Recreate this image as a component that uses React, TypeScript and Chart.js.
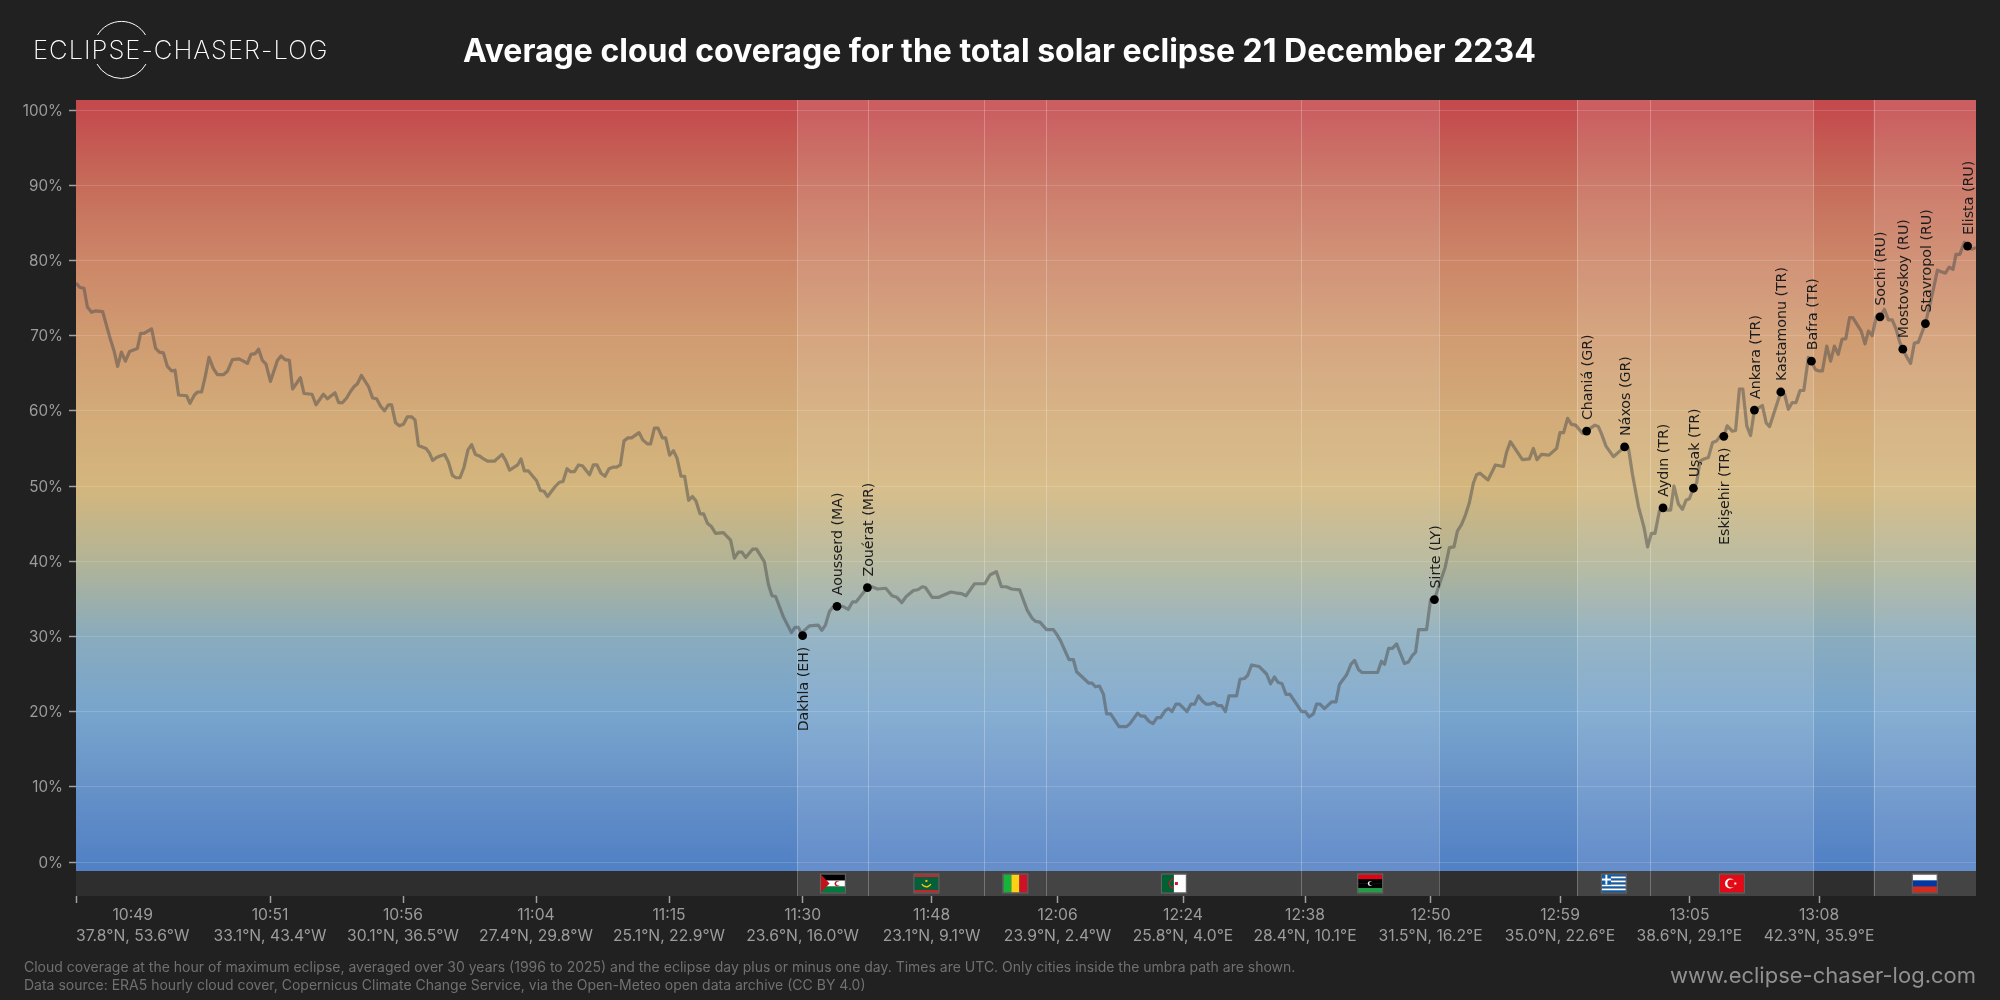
import { useEffect, useRef } from "react";
import { Chart, registerables } from "chart.js";

Chart.register(...registerables);

// position along the umbra path, km from the left edge of the chart
const trackKm = [
  0, 20, 40, 57, 78, 98, 133, 173, 190, 208, 227, 247, 268, 307, 323, 340, 378, 398, 417, 437, 457, 478, 495, 513, 553, 570, 592, 608, 628, 645, 665, 687, 707, 737, 758, 782, 815, 837, 857, 875, 895, 913, 932, 950, 972,
  1007, 1025, 1045, 1067, 1083, 1122, 1140, 1180, 1200, 1237, 1257, 1295, 1313, 1333, 1353, 1373, 1390, 1407, 1427, 1463, 1483, 1503, 1523, 1542, 1562, 1578, 1598, 1617, 1637, 1657, 1678, 1695, 1712, 1750, 1767, 1783, 1803,
  1820, 1843, 1862, 1882, 1900, 1920, 1940, 1960, 1978, 1997, 2017, 2038, 2058, 2092, 2130, 2148, 2168, 2208, 2225, 2242, 2262, 2303, 2322, 2340, 2358, 2395, 2417, 2435, 2455, 2473, 2492, 2513, 2532, 2568, 2587, 2605, 2625, 2645, 2665, 2685, 2703, 2722, 2740, 2760, 2778, 2815, 2835, 2857, 2873, 2892, 2910, 2932, 2948, 2968, 2987,
  3005, 3025, 3043, 3063, 3082, 3100, 3120, 3138, 3158, 3177, 3198, 3237, 3273, 3292, 3312, 3330, 3348, 3383, 3403, 3442, 3462, 3480, 3498, 3537, 3577, 3595, 3612, 3633,
  3638, 3667, 3711, 3729, 3747, 3767, 3785, 3805, 3834, 3861, 3883, 3901, 3957, 3979, 4008, 4049, 4080, 4104, 4129, 4151, 4187, 4209, 4232, 4247, 4281, 4314, 4374, 4397, 4426, 4450, 4493, 4544, 4571, 4602, 4627, 4651, 4678, 4718, 4756, 4781, 4798,
  4820, 4833, 4853, 4887, 4903, 4923, 4965, 4987, 5003, 5063, 5080, 5097, 5117, 5137, 5153, 5173, 5215, 5253, 5270, 5308, 5325, 5343, 5365, 5385, 5405, 5423, 5445, 5462, 5480, 5500, 5517, 5555, 5575, 5593, 5612, 5632, 5650, 5670, 5690, 5708, 5728, 5747, 5765, 5803, 5820, 5842, 5858, 5878, 5915, 5953, 5973, 5992,
  6010, 6030, 6050, 6070, 6128, 6147, 6165, 6187, 6203, 6220, 6242, 6278, 6300, 6317, 6353, 6375, 6393, 6412, 6430, 6508, 6527, 6543, 6563, 6582, 6603, 6642, 6662, 6680, 6698, 6713, 6753, 6773, 6792,
  6828, 6845, 6867, 6890, 6907, 6928, 6948, 6967, 6987, 7003, 7020, 7060, 7097, 7137, 7153, 7172, 7232, 7267, 7287, 7305, 7327, 7365, 7403, 7420, 7438, 7458, 7477, 7498, 7533, 7553, 7578, 7595, 7612, 7628, 7650, 7687, 7743, 7762, 7782, 7812, 7840, 7858, 7877, 7895, 7917, 7935, 7953, 7973, 7990,
  8012, 8032, 8050, 8067, 8087, 8103, 8120, 8140, 8162, 8183, 8203, 8220, 8239, 8256, 8281, 8298, 8317, 8334, 8354, 8373, 8392, 8432, 8451, 8468, 8524, 8543, 8562, 8581, 8600, 8620, 8639, 8662, 8677, 8696, 8715, 8732, 8754, 8773, 8792, 8811, 8830, 8849, 8868, 8884, 8926, 8945, 8962, 8981,
  9002, 9020, 9042, 9062, 9081, 9100, 9119, 9134, 9155, 9173, 9192, 9211, 9247, 9270, 9289, 9307, 9347, 9366, 9385, 9400, 9419, 9442, 9458, 9481, 9500,
];

const cloudCover = [
  77.0, 76.4, 76.3, 73.8, 73.1, 73.3, 73.2, 69.4, 68.0, 65.9, 67.8, 66.6, 67.9, 68.3, 70.3, 70.3, 70.9, 68.3, 67.8, 67.7, 65.9, 65.3, 65.4, 62.1, 62.0, 61.0, 62.1, 62.5, 62.5, 64.4, 67.1, 65.6, 64.8, 64.8, 65.3, 66.8, 66.9, 66.6, 66.3, 67.5, 67.6, 68.2, 66.7, 66.2, 63.9,
  66.7, 67.3, 66.8, 66.7, 62.9, 64.4, 62.3, 62.2, 60.8, 62.2, 61.6, 62.4, 61.1, 61.1, 61.7, 62.6, 63.2, 63.6, 64.7, 63.2, 61.7, 61.6, 60.6, 60.0, 60.8, 60.8, 58.4, 58.0, 58.2, 59.2, 59.2, 58.8, 55.4, 55.0, 54.4, 53.4, 53.8,
  54.0, 54.2, 53.2, 51.4, 51.1, 51.1, 52.5, 54.8, 55.5, 54.2, 54.0, 53.6, 53.3, 53.3, 54.2, 53.4, 52.1, 52.8, 53.6, 52.0, 52.0, 50.7, 49.4, 49.3, 48.6, 49.9, 50.5, 50.6, 52.3, 51.9, 51.9, 52.8, 52.7, 51.5, 52.8, 52.8, 51.7, 51.3, 52.3, 52.5, 52.5, 52.8, 56.0, 56.4, 56.4, 57.1, 56.1, 55.6, 55.6, 57.7, 57.7, 56.4, 56.4, 54.1, 54.7,
  53.7, 51.3, 51.3, 48.1, 48.6, 48.0, 46.3, 46.3, 45.0, 44.6, 43.7, 43.8, 42.8, 40.4, 41.2, 41.2, 40.5, 41.6, 41.6, 39.9, 36.9, 35.4, 35.3, 32.6, 30.5, 31.2, 31.2, 30.1,
  30.7, 31.4, 31.5, 30.8, 31.5, 33.3, 33.9, 34.0, 34.0, 33.6, 34.6, 34.6, 36.5, 36.6, 36.3, 36.4, 35.4, 35.2, 34.5, 35.3, 36.1, 36.2, 36.6, 36.5, 35.2, 35.2, 35.9, 35.8, 35.7, 35.4, 37.0, 37.0, 38.2, 38.6, 36.6, 36.6, 36.3, 36.2, 33.5, 32.4, 32.0,
  31.9, 31.5, 30.9, 30.9, 30.3, 29.4, 26.9, 26.9, 25.3, 23.8, 23.8, 23.3, 23.4, 22.3, 19.7, 19.7, 18.0, 18.0, 18.4, 19.8, 19.4, 19.4, 18.7, 18.4, 19.2, 19.2, 20.1, 20.4, 20.0, 21.0, 21.0, 20.0, 21.0, 21.0, 22.1, 21.4, 21.0, 21.0, 21.2, 20.8, 20.8, 20.0, 22.1, 22.1, 24.3, 24.4, 24.8, 26.2, 26.0, 25.0, 23.7, 24.6,
  23.9, 23.7, 22.3, 22.3, 20.0, 20.0, 19.3, 19.7, 21.0, 21.0, 20.4, 21.3, 21.3, 23.6, 24.9, 26.3, 26.8, 25.6, 25.2, 25.2, 26.7, 26.3, 28.4, 28.4, 29.0, 26.4, 26.6, 27.4, 27.9, 30.9, 30.9, 34.9, 34.9,
  37.8, 39.1, 41.8, 41.9, 44.0, 44.9, 46.2, 47.8, 50.4, 51.5, 51.7, 50.8, 52.8, 52.6, 54.5, 55.9, 53.5, 53.6, 55.0, 53.5, 54.2, 54.1, 55.0, 57.1, 57.1, 59.0, 58.2, 58.1, 57.0, 57.3, 57.8, 58.1, 57.9, 56.9, 55.3, 53.9, 55.2, 55.1, 51.6, 47.3, 44.5, 41.9, 43.7, 43.7, 46.7, 47.1, 46.8, 46.8, 50.0,
  47.6, 46.9, 48.1, 48.3, 49.7, 50.4, 53.3, 53.6, 53.8, 55.8, 56.0, 56.6, 56.6, 58.0, 57.3, 57.4, 62.9, 62.9, 58.0, 56.7, 60.1, 60.7, 58.4, 57.9, 62.5, 62.2, 60.2, 61.1, 61.1, 62.7, 62.7, 67.1, 66.6, 65.5, 65.3, 65.3, 68.6, 66.6, 68.6, 67.5, 69.5, 69.6, 72.4, 72.4, 70.6, 68.9, 70.6, 70.0,
  72.6, 72.5, 73.5, 72.1, 72.1, 70.9, 69.1, 68.2, 67.1, 66.3, 69.0, 69.1, 71.6, 74.2, 76.4, 78.7, 78.3, 79.1, 78.8, 80.8, 80.8, 82.4, 81.9, 81.5, 81.7,
];

const cityNames = ["Dakhla (EH)", "Aousserd (MA)", "Zouérat (MR)", "Sirte (LY)", "Chaniá (GR)", "Náxos (GR)", "Aydın (TR)", "Uşak (TR)", "Eskişehir (TR)", "Ankara (TR)", "Kastamonu (TR)", "Bafra (TR)", "Sochi (RU)", "Mostovskoy (RU)", "Stavropol (RU)", "Elista (RU)"];
const cityKm = [3633, 3805, 3957, 6792, 7553, 7743, 7935, 8087, 8239, 8392, 8524, 8677, 9020, 9134, 9247, 9458];
const cityCover = [30.1, 34.0, 36.5, 34.9, 57.3, 55.2, 47.1, 49.7, 56.6, 60.1, 62.5, 66.6, 72.5, 68.2, 71.6, 81.9];
const citiesBelow = ["Dakhla (EH)", "Eskişehir (TR)"];

const tickKm = [0, 970, 1635, 2300, 2965, 3633, 4278, 4908, 5535, 6145, 6773, 7420, 8067, 8715];
const tickTimes = ["10:49", "10:51", "10:56", "11:04", "11:15", "11:30", "11:48", "12:06", "12:24", "12:38", "12:50", "12:59", "13:05", "13:08"];
const tickCoords = ["37.8°N, 53.6°W", "33.1°N, 43.4°W", "30.1°N, 36.5°W", "27.4°N, 29.8°W", "25.1°N, 22.9°W", "23.6°N, 16.0°W", "23.1°N, 9.1°W", "23.9°N, 2.4°W", "25.8°N, 4.0°E", "28.4°N, 10.1°E", "31.5°N, 16.2°E", "35.0°N, 22.6°E", "38.6°N, 29.1°E", "42.3°N, 35.9°E"];

// start and end of each country crossed on land
const countryCodes = ["EH", "MR", "ML", "DZ", "LY", "GR", "TR", "RU"];
const countryStart = [3607, 3962, 4542, 4852, 6127, 7506, 7872, 8988];
const countryEnd = [3962, 4542, 4852, 6127, 6815, 7872, 8687, 9500];

const gradientValues = [100, 90, 80, 70, 60, 50, 40, 30, 20, 10, 0];
const gradientColors = ["#c44b4d", "#c66c5a", "#cc8668", "#d09b71", "#d2aa78", "#d4b67d", "#b2b496", "#89abbd", "#78a5cd", "#6692c8", "#5281c5"];

const FONT = "Inter, 'Noto Sans', sans-serif";
const Y_MAX = 101.33;
const Y_MIN = -4.52;
const PLOT_FLOOR = -1.2;

function drawFlag(ctx: CanvasRenderingContext2D, code: string, x: number, y: number, w: number, h: number) {
  const bars = (colors: string[]) => colors.forEach((c, i) => {
    ctx.fillStyle = c;
    ctx.fillRect(x, y + (i * h) / colors.length, w, h / colors.length);
  });
  const moon = (cx: number, cy: number, r: number, color: string, bg: string, dx: number) => {
    ctx.fillStyle = color;
    ctx.beginPath(); ctx.arc(cx, cy, r, 0, Math.PI * 2); ctx.fill();
    ctx.fillStyle = bg;
    ctx.beginPath(); ctx.arc(cx + dx, cy, r * 0.8, 0, Math.PI * 2); ctx.fill();
  };
  if (code === "EH") {
    bars(["#000000", "#ffffff", "#007a3d"]);
    ctx.fillStyle = "#c4111b";
    ctx.beginPath(); ctx.moveTo(x, y); ctx.lineTo(x + w * 0.36, y + h / 2); ctx.lineTo(x, y + h); ctx.fill();
    moon(x + w * 0.68, y + h / 2, 2.6, "#c4111b", "#ffffff", 1);
  } else if (code === "MR") {
    bars(["#c1272d", "#00623b", "#00623b", "#00623b", "#00623b", "#00623b", "#c1272d"]);
    ctx.strokeStyle = "#ffc400"; ctx.lineWidth = 1.4;
    ctx.beginPath(); ctx.arc(x + w / 2, y + h * 0.4, 5, 0.15 * Math.PI, 0.85 * Math.PI); ctx.stroke();
    ctx.fillStyle = "#ffc400";
    ctx.fillRect(x + w / 2 - 1, y + h * 0.3, 2, 2);
  } else if (code === "ML") {
    ["#14b53a", "#fcd116", "#ce1126"].forEach((c, i) => { ctx.fillStyle = c; ctx.fillRect(x + (i * w) / 3, y, w / 3, h); });
  } else if (code === "DZ") {
    ctx.fillStyle = "#006233"; ctx.fillRect(x, y, w / 2, h);
    ctx.fillStyle = "#ffffff"; ctx.fillRect(x + w / 2, y, w / 2, h);
    ctx.strokeStyle = "#d21034"; ctx.lineWidth = 1.3;
    ctx.beginPath(); ctx.arc(x + w / 2, y + h / 2, 4.5, 0.5 * Math.PI, 1.5 * Math.PI); ctx.stroke();
    ctx.fillStyle = "#d21034"; ctx.fillRect(x + w / 2 + 1, y + h / 2 - 1.5, 3, 3);
  } else if (code === "LY") {
    bars(["#e70013", "#000000", "#000000", "#239e46"]);
    moon(x + w / 2, y + h / 2, 2.4, "#ffffff", "#000000", 1);
  } else if (code === "GR") {
    bars(["#0d5eaf", "#ffffff", "#0d5eaf", "#ffffff", "#0d5eaf", "#ffffff", "#0d5eaf", "#ffffff", "#0d5eaf"]);
    ctx.fillStyle = "#0d5eaf"; ctx.fillRect(x, y, w * 0.38, h * 5 / 9);
    ctx.fillStyle = "#ffffff";
    ctx.fillRect(x + w * 0.15, y, w * 0.08, h * 5 / 9);
    ctx.fillRect(x, y + h * 2 / 9, w * 0.38, h / 9);
  } else if (code === "TR") {
    ctx.fillStyle = "#e30a17"; ctx.fillRect(x, y, w, h);
    moon(x + w * 0.42, y + h / 2, 5, "#ffffff", "#e30a17", 1.4);
    ctx.fillStyle = "#ffffff"; ctx.fillRect(x + w * 0.6, y + h / 2 - 1, 2, 2);
  } else {
    bars(["#ffffff", "#0039a6", "#d52b1e"]);
  }
  ctx.strokeStyle = "#666666"; ctx.lineWidth = 1;
  ctx.strokeRect(x - 0.5, y - 0.5, w + 1, h + 1);
}

const backdrop = {
  id: "backdrop",
  beforeDraw(chart: any) {
    const { ctx, chartArea: area, scales: { x, y } } = chart;
    const floor = y.getPixelForValue(PLOT_FLOOR);
    ctx.save();
    ctx.fillStyle = "#212121";
    ctx.fillRect(0, 0, chart.width, chart.height);

    const grad = ctx.createLinearGradient(0, y.getPixelForValue(100), 0, y.getPixelForValue(0));
    gradientValues.forEach((v, i) => grad.addColorStop((100 - v) / 100, gradientColors[i]));
    ctx.fillStyle = grad;
    ctx.fillRect(area.left, area.top, area.width, floor - area.top);
    ctx.fillStyle = "#2e2e2e";
    ctx.fillRect(area.left, floor, area.width, area.bottom - floor);

    countryCodes.forEach((code, i) => {
      const a = x.getPixelForValue(countryStart[i]);
      const b = x.getPixelForValue(countryEnd[i]);
      ctx.fillStyle = "rgba(255,255,255,0.11)";
      ctx.fillRect(a, area.top, b - a, area.height);
      drawFlag(ctx, code, (a + b) / 2 - 12, floor + 3.5, 24, 18);
    });
    const edges = Array.from(new Set([...countryStart, ...countryEnd])).filter((km) => km < 9500);
    ctx.fillStyle = "rgba(255,255,255,0.26)";
    edges.forEach((km) => ctx.fillRect(Math.round(x.getPixelForValue(km)), area.top, 1, area.height));
    ctx.restore();
  },
};

const annotations = {
  id: "annotations",
  afterDatasetsDraw(chart: any) {
    const { ctx, chartArea: area, scales: { x, y } } = chart;
    ctx.save();
    ctx.font = "14.2px 'DejaVu Sans'";
    ctx.fillStyle = "#1c1c1c";
    ctx.textBaseline = "middle";
    cityNames.forEach((name, i) => {
      const below = citiesBelow.includes(name);
      ctx.save();
      ctx.translate(x.getPixelForValue(cityKm[i]) + 1.5, y.getPixelForValue(cityCover[i]) + (below ? 11 : -11));
      ctx.rotate(-Math.PI / 2);
      ctx.textAlign = below ? "right" : "left";
      ctx.fillText(name, 0, 0);
      ctx.restore();
    });

    // first label is pushed inside the plot, so the axis text is placed here
    ctx.font = `15.7px ${FONT}`;
    ctx.fillStyle = "#9c9c9c";
    ctx.textAlign = "center";
    tickKm.forEach((km, i) => {
      const half = ctx.measureText(tickCoords[i]).width / 2;
      const px = Math.max(x.getPixelForValue(km), area.left + half);
      ctx.fillText(tickTimes[i], px, 915.5);
      ctx.fillText(tickCoords[i], px, 936);
    });
    ctx.restore();
  },
};

const pageText: React.CSSProperties = { position: "absolute", whiteSpace: "nowrap", fontFamily: FONT };

export default function App() {
  const canvasRef = useRef<HTMLCanvasElement>(null);

  useEffect(() => {
    if (!canvasRef.current) return;
    const chart = new Chart(canvasRef.current, {
      type: "line",
      data: {
        datasets: [
          {
            data: trackKm.map((km, i) => ({ x: km, y: cloudCover[i] })),
            borderColor: "rgba(75,75,75,0.5)",
            borderWidth: 3.2,
            borderJoinStyle: "round",
            pointRadius: 0,
            tension: 0,
            order: 2,
          },
          {
            data: cityKm.map((km, i) => ({ x: km, y: cityCover[i] })),
            showLine: false,
            pointRadius: 4.4,
            pointBackgroundColor: "#000000",
            pointBorderWidth: 0,
            order: 1,
          },
        ],
      },
      options: {
        responsive: false,
        animation: false,
        devicePixelRatio: 1,
        layout: { padding: { top: 100, right: 24, left: 0, bottom: 0 } },
        plugins: { legend: { display: false }, tooltip: { enabled: false }, title: { display: false } },
        scales: {
          x: {
            type: "linear",
            min: 0,
            max: 9500,
            afterFit: (s: any) => { s.height = 104; },
            afterBuildTicks: (s: any) => { s.ticks = tickKm.map((value) => ({ value })); },
            border: { display: false },
            grid: { drawOnChartArea: false, tickLength: 7, tickColor: "#a0a0a0", tickWidth: 1.5 },
            ticks: { display: false, autoSkip: false },
          },
          y: {
            min: Y_MIN,
            max: Y_MAX,
            afterFit: (s: any) => { s.width = 76; },
            border: { display: false },
            grid: { color: "rgba(255,255,255,0.15)", tickColor: "#a0a0a0", tickLength: 7, tickWidth: 1.5 },
            ticks: {
              stepSize: 10,
              includeBounds: false,
              padding: 6,
              labelOffset: 1,
              color: "#9c9c9c",
              font: { family: FONT, size: 15.2 },
              callback: (v: any) => `${v}%`,
            },
          },
        },
      },
      plugins: [backdrop, annotations],
    } as any);
    return () => chart.destroy();
  }, []);

  return (
    <div style={{ position: "relative", width: 2000, height: 1000, overflow: "hidden", background: "#212121" }}>
      <style>{"body{margin:0;background:#212121}"}</style>
      <canvas ref={canvasRef} width={2000} height={1000} style={{ display: "block" }} />

      <svg width={200} height={100} style={{ position: "absolute", left: 0, top: 0 }} fill="none" stroke="#ffffff" strokeWidth={1}>
        <path d="M97.5 35 A28 28 0 0 1 145.5 35" />
        <path d="M97 64 A28 28 0 0 0 146 64" />
      </svg>
      <div style={{ ...pageText, left: 33, top: 34, fontSize: 25.6, lineHeight: "32px", letterSpacing: 1, fontWeight: 200, color: "#ffffff" }}>ECLIPSE-CHASER-LOG</div>

      <div style={{ ...pageText, left: 463, top: 31, fontSize: 32, lineHeight: "40px", fontWeight: 700, color: "#ffffff" }}>
        Average cloud coverage for the total solar eclipse 21 December 2234
      </div>

      <div style={{ ...pageText, left: 24, top: 958, fontSize: 14, lineHeight: "18px", color: "#707070" }}>
        Cloud coverage at the hour of maximum eclipse, averaged over 30 years (1996 to 2025) and the eclipse day plus or minus one day. Times are UTC. Only cities inside the umbra path are shown.
        <br />
        Data source: ERA5 hourly cloud cover, Copernicus Climate Change Service, via the Open-Meteo open data archive (CC BY 4.0)
      </div>

      <div style={{ ...pageText, right: 24, top: 961, fontSize: 22, lineHeight: "28px", color: "#909090" }}>www.eclipse-chaser-log.com</div>
    </div>
  );
}
